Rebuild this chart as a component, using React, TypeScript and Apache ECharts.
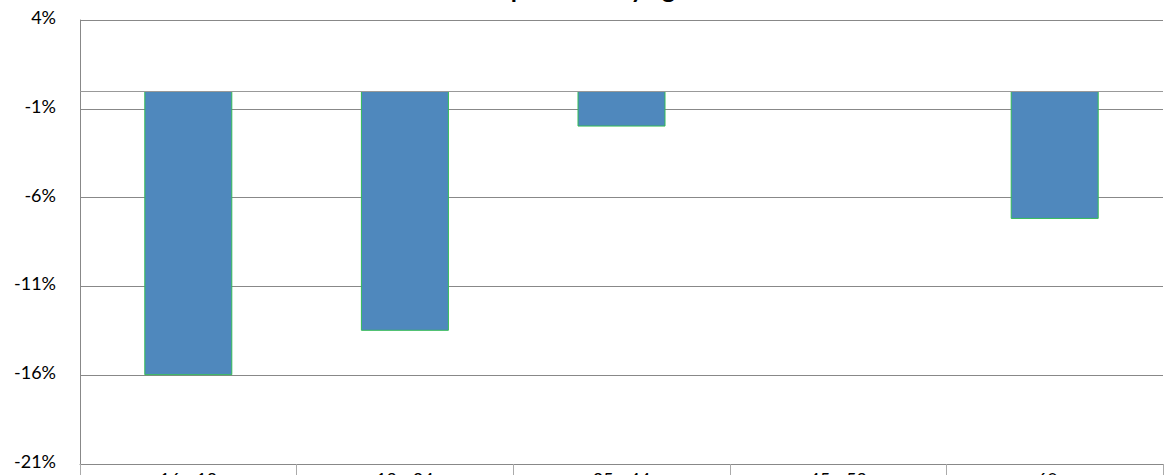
import React, { useEffect, useRef } from "react";
import * as echarts from "echarts";

const titleText = "Membership decline by age";
const categories = ["16 - 18", "19 - 24", "25 - 44", "45 - 59", "60 +"];
const values = [-16, -13.5, -2, 0, -7.2];
const yMin = -21;
const yMax = 4;
const yStep = 5;

export default function App() {
  const ref = useRef<HTMLDivElement>(null);
  useEffect(() => {
    if (!ref.current) return;
    const chart = echarts.init(ref.current, undefined, { renderer: "svg" });
    const font = "Lato, 'Open Sans', sans-serif";
    chart.setOption({
      animation: false,
      backgroundColor: "#ffffff",
      title: {
        text: titleText,
        left: 380,
        top: -30,
        textStyle: { fontFamily: font, fontSize: 25, fontWeight: "bold", color: "#000" },
      },
      grid: {
        left: 80,
        right: 1,
        top: 20,
        bottom: 11,
        containLabel: false,
        outerBoundsMode: "none",
      },
      xAxis: [
        {
          type: "category",
          data: categories,
          position: "bottom",
          axisLine: { show: true, onZero: false, lineStyle: { color: "#888888", width: 1 } },
          axisTick: { show: true, length: 30, lineStyle: { color: "#aaaaaa" } },
          axisLabel: { fontFamily: font, fontSize: 18, color: "#000", margin: 6 },
        },
      ],
      yAxis: {
        type: "value",
        min: yMin,
        max: yMax,
        interval: yStep,
        axisLine: { show: true, lineStyle: { color: "#888888" } },
        axisTick: { show: false },
        splitLine: { show: true, lineStyle: { color: "#888888", width: 1 } },
        axisLabel: {
          fontFamily: font,
          fontSize: 18,
          color: "#000",
          margin: 24,
          verticalAlign: "bottom",
          lineHeight: 22,
          padding: [0, 0, -8, 0],
          formatter: (v: number) => `${Math.round(v)}%`,
        },
      },
      series: [
        {
          type: "bar",
          data: values.map((v) =>
            v === 0 ? { value: v, itemStyle: { borderWidth: 0 } } : v
          ),
          barWidth: 88,
          itemStyle: { color: "#4F88BD", borderColor: "#33bb55", borderWidth: 1 },
          markLine: {
            silent: true,
            symbol: "none",
            label: { show: false },
            lineStyle: { color: "#999999", type: "solid", width: 1 },
            data: [{ yAxis: 0 }],
          },
        },
      ],
    });
    return () => chart.dispose();
  }, []);
  return (
    <div
      ref={ref}
      style={{ position: "fixed", left: 0, top: 0, width: 1164, height: 475 }}
    />
  );
}
